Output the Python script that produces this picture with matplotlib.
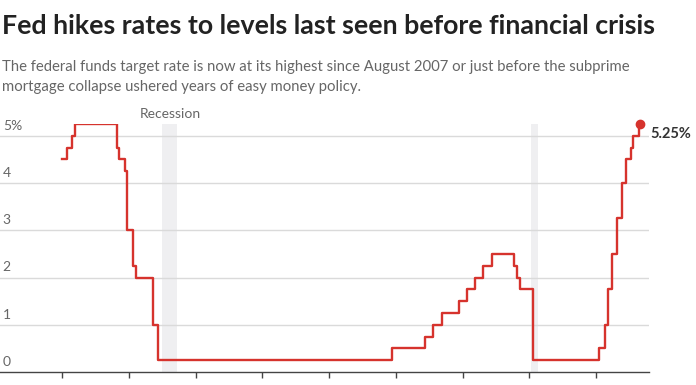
import matplotlib.pyplot as plt
from matplotlib.transforms import blended_transform_factory

# decimal years at which the target rate (upper bound) changes, and the new rate
change_years = [2005.98, 2006.13, 2006.28, 2006.38, 2007.63, 2007.71, 2007.88, 2007.95,
                2008.13, 2008.20, 2008.71, 2008.87, 2015.88, 2016.88, 2017.12, 2017.38,
                2017.88, 2018.13, 2018.38, 2018.62, 2018.88, 2019.55, 2019.63, 2019.71,
                2020.12, 2022.10, 2022.27, 2022.35, 2022.47, 2022.62, 2022.79, 2022.89,
                2023.04, 2023.12, 2023.30]
rates = [4.5, 4.75, 5.0, 5.25, 4.75, 4.5, 4.25, 3.0,
         2.25, 2.0, 1.0, 0.25, 0.5, 0.75, 1.0, 1.25,
         1.5, 1.75, 2.0, 2.25, 2.5, 2.25, 2.0, 1.75,
         0.25, 0.5, 1.0, 1.75, 2.5, 3.25, 4.0, 4.5,
         4.75, 5.0, 5.25]
last_year = 2023.33
last_rate = 5.25

recessions = [(2009.0, 2009.45), (2020.05, 2020.25)]
y_ticks = [0, 1, 2, 3, 4, 5]
y_labels = ["0", "1", "2", "3", "4", "5%"]
x_ticks = list(range(2006, 2023, 2))

title = "Fed hikes rates to levels last seen before financial crisis"
subtitle_lines = ["The federal funds target rate is now at its highest since August 2007 or just before the subprime",
                  "mortgage collapse ushered years of easy money policy."]

plt.rcParams['font.family'] = ['Lato', 'DejaVu Sans']

red = "#d6332d"
grey_text = "#666666"

fig = plt.figure(figsize=(6.96, 3.85), dpi=100)
ax = fig.add_axes([0, 1 - 372 / 385, 649 / 696, (372 - 124) / 385])

xs = change_years + [last_year]
ys = rates + [last_rate]
ax.plot(xs, ys, drawstyle='steps-post', color=red, lw=1.7, zorder=3)
ax.plot([last_year], [last_rate], 'o', color=red, ms=6, clip_on=False, zorder=4)
ax.annotate("5.25%", xy=(last_year, last_rate), xytext=(7, -2), textcoords='offset points',
            ha='left', va='top', fontsize=10.5, fontweight='bold', color="#333333",
            annotation_clip=False)

for start, end in recessions:
    ax.axvspan(start, end, color="#efeff1", lw=0, zorder=1)
rec_mid = (recessions[0][0] + recessions[0][1]) / 2
ax.annotate("Recession", xy=(rec_mid, 1), xycoords=('data', 'axes fraction'),
            xytext=(0, 3), textcoords='offset points', ha='center', va='bottom',
            fontsize=10, color=grey_text, annotation_clip=False)

ax.set_xlim(2004.13, 2023.59)
ax.set_ylim(0, 5.25)

for v in y_ticks[1:]:
    ax.axhline(v, color="#dadada", lw=1, zorder=2)
trans = blended_transform_factory(ax.transAxes, ax.transData)
for v, lab in zip(y_ticks, y_labels):
    ax.annotate(lab, xy=(0, v), xycoords=trans, xytext=(2, 3), textcoords='offset points',
                ha='left', va='bottom', fontsize=10, color=grey_text)

for s in ['top', 'right', 'left']:
    ax.spines[s].set_visible(False)
ax.spines['bottom'].set_color("#444444")
ax.spines['bottom'].set_linewidth(1)
ax.set_xticks(x_ticks)
ax.set_xticklabels([])
ax.tick_params(axis='x', length=4, width=1, color="#444444", direction='out')
ax.set_yticks([])
ax.patch.set_alpha(0)

fig.text(2 / 696, 1 - 34 / 385, title, fontsize=19.3, fontweight='bold', color="#222222",
         ha='left', va='baseline')
for i, line in enumerate(subtitle_lines):
    fig.text(2 / 696, 1 - (71 + 20.5 * i) / 385, line, fontsize=10.7, color=grey_text,
             ha='left', va='baseline')

fig.savefig("out.png", dpi=100)
